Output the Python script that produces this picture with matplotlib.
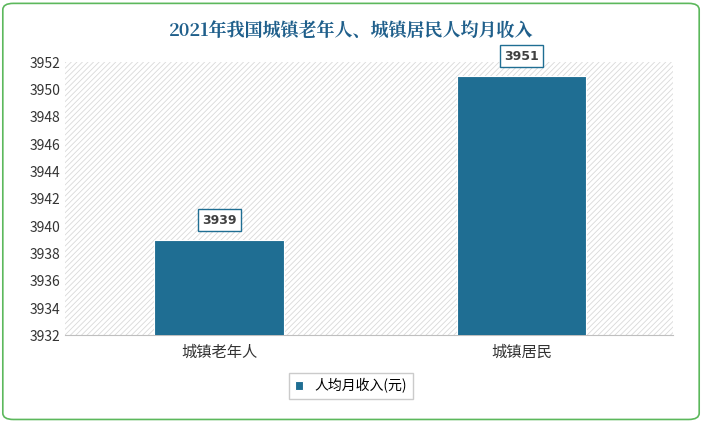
import matplotlib
matplotlib.use("Agg")
import matplotlib.pyplot as plt
from matplotlib.patches import FancyBboxPatch

plt.rcParams["font.family"] = ["Noto Sans CJK SC", "DejaVu Sans"]
plt.rcParams["hatch.color"] = "#d9d9d9"
plt.rcParams["hatch.linewidth"] = 0.6

categories = ["城镇老年人", "城镇居民"]
values = [3939, 3951]
series_name = "人均月收入(元)"
title = "2021年我国城镇老年人、城镇居民人均月收入"
bar_color = "#1f6e93"

fig = plt.figure(figsize=(7.02, 4.22), dpi=100)
# green rounded frame
fig.patches.append(FancyBboxPatch((0.004, 0.006), 0.992, 0.986,
                                  boxstyle="round,pad=0,rounding_size=0.015",
                                  transform=fig.transFigure, fill=False,
                                  edgecolor="#5cb85c", linewidth=1.2))

ax = fig.add_axes([0.093, 0.205, 0.865, 0.648])
ax.add_patch(plt.Rectangle((0, 0), 1, 1, transform=ax.transAxes, facecolor="white",
                           hatch="//////", edgecolor="#d9d9d9", linewidth=0, zorder=0))

x = range(len(categories))
bars = ax.bar(x, values, width=0.43, color=bar_color, label=series_name, zorder=3,
              edgecolor="white", linewidth=0.8)
for xi, v in zip(x, values):
    ax.annotate(str(v), (xi, v), xytext=(0, 14), textcoords="offset points",
                ha="center", va="center", fontsize=9, fontweight="bold", color="#404040",
                family=["DejaVu Sans"],
                bbox=dict(boxstyle="square,pad=0.35", fc="white", ec=bar_color, lw=1))

ax.set_xlim(-0.51, 1.5)
ax.set_ylim(3932, 3952)
ax.set_yticks(range(3932, 3953, 2))
ax.set_xticks(list(x))
ax.set_xticklabels(categories, fontsize=11)
ax.tick_params(axis="y", labelsize=10, length=0, colors="#333333")
ax.tick_params(axis="x", length=0, pad=6, colors="#333333")
for s in ["top", "right", "left"]:
    ax.spines[s].set_visible(False)
ax.spines["bottom"].set_color("#bfbfbf")

fig.text(0.5, 0.925, title, ha="center", va="center", fontsize=13, fontweight="bold",
         color="#1f5f8b", family=["Noto Serif CJK SC", "Noto Sans CJK SC", "DejaVu Sans"])

leg = fig.legend(handles=[bars], labels=[series_name], loc="center",
                 bbox_to_anchor=(0.5, 0.085), fontsize=10, frameon=True,
                 fancybox=False, edgecolor="#bfbfbf", handlelength=0.6, handleheight=0.6)

fig.savefig("out.png", dpi=100)
